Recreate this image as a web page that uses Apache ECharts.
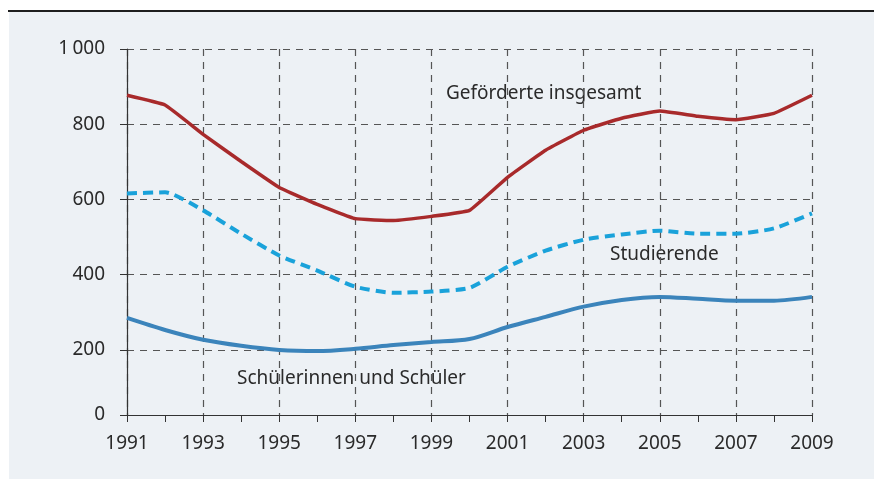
<!DOCTYPE html>
<html>
<head>
<meta charset="utf-8">
<script src="https://cdn.jsdelivr.net/npm/echarts@6/dist/echarts.min.js"></script>
<style>
  html, body { margin: 0; padding: 0; background: #fff; }
  #main { width: 874px; height: 479px; }
</style>
</head>
<body>
<div id="main"></div>
<script>
var years = ["1991", "1992", "1993", "1994", "1995", "1996", "1997", "1998", "1999", "2000",
  "2001", "2002", "2003", "2004", "2005", "2006", "2007", "2008", "2009"];

// Tausend Personen
var gefoerderte = [877, 851, 773, 701, 632, 587, 549, 544, 555, 571,
  659, 731, 784, 816, 835, 821, 812, 829, 877];
var studierende = [616, 619, 571, 509, 451, 411, 368, 352, 355, 365,
  421, 464, 493, 507, 517, 509, 509, 523, 563];
var schueler = [285, 253, 227, 211, 200, 197, 203, 213, 221, 229,
  261, 288, 315, 333, 341, 336, 331, 331, 341];

// the baseline of the original sits a little above zero
var yTicks = [27, 200, 400, 600, 800, 1000];

var font = "Noto Sans";
var textColor = "#2a2a2a";
var gridColor = "#555";

var chart = echarts.init(document.getElementById("main"));

var option = {
  backgroundColor: "#ffffff",
  animation: false,
  textStyle: { fontFamily: font },
  graphic: [
    { type: "rect", z: -10, shape: { x: 9, y: 12, width: 865, height: 467 },
      style: { fill: "#edf1f5" } },
    { type: "line", shape: { x1: 8, y1: 11, x2: 874, y2: 11 },
      style: { stroke: "#1e1e1e", lineWidth: 2 } },
    { type: "text", x: 446, y: 94, style: { text: "Geförderte insgesamt", fill: textColor,
      font: "19px '" + font + "'", verticalAlign: "middle" } },
    { type: "text", x: 610, y: 255, style: { text: "Studierende", fill: textColor,
      font: "19px '" + font + "'", verticalAlign: "middle" } },
    { type: "text", x: 237, y: 379, style: { text: "Schülerinnen und Schüler", fill: textColor,
      font: "19px '" + font + "'", verticalAlign: "middle" } }
  ],
  grid: { left: 127, right: 62, top: 49, bottom: 64 },
  xAxis: {
    type: "category",
    data: years,
    boundaryGap: false,
    axisLine: { lineStyle: { color: "#333", width: 1.2 } },
    axisTick: { interval: 0, length: 7, lineStyle: { color: "#333" } },
    axisLabel: { interval: 1, margin: 19, fontSize: 19, color: textColor, fontFamily: font },
    splitLine: { show: true, interval: 1, lineStyle: { color: gridColor, type: [7, 6], width: 1.2 } }
  },
  yAxis: {
    type: "value",
    min: 27,
    max: 1000,
    axisLine: { show: true, lineStyle: { color: "#333", width: 1.2 } },
    axisTick: { show: true, length: 7, customValues: yTicks, lineStyle: { color: "#333" } },
    axisLabel: {
      customValues: yTicks, margin: 22, fontSize: 19, color: textColor, fontFamily: font,
      formatter: function (v) {
        if (v < 100) return "0";
        if (v >= 1000) return "1\u2009000";
        return String(v);
      }
    },
    splitLine: { show: true, lineStyle: { color: gridColor, type: [7, 6], width: 1.2 } }
  },
  series: [
    {
      name: "Geförderte insgesamt",
      type: "line",
      data: gefoerderte,
      symbol: "none",
      smooth: 0.1,
      lineStyle: { color: "#a82a2b", width: 3.5 }
    },
    {
      name: "Studierende",
      type: "line",
      data: studierende,
      symbol: "none",
      smooth: 0.2,
      lineStyle: { color: "#1aa2da", width: 4, type: [10, 6] }
    },
    {
      name: "Schülerinnen und Schüler",
      type: "line",
      data: schueler,
      symbol: "none",
      smooth: 0.3,
      lineStyle: { color: "#3b84bb", width: 4 }
    }
  ]
};

option && chart.setOption(option);
</script>
</body>
</html>
